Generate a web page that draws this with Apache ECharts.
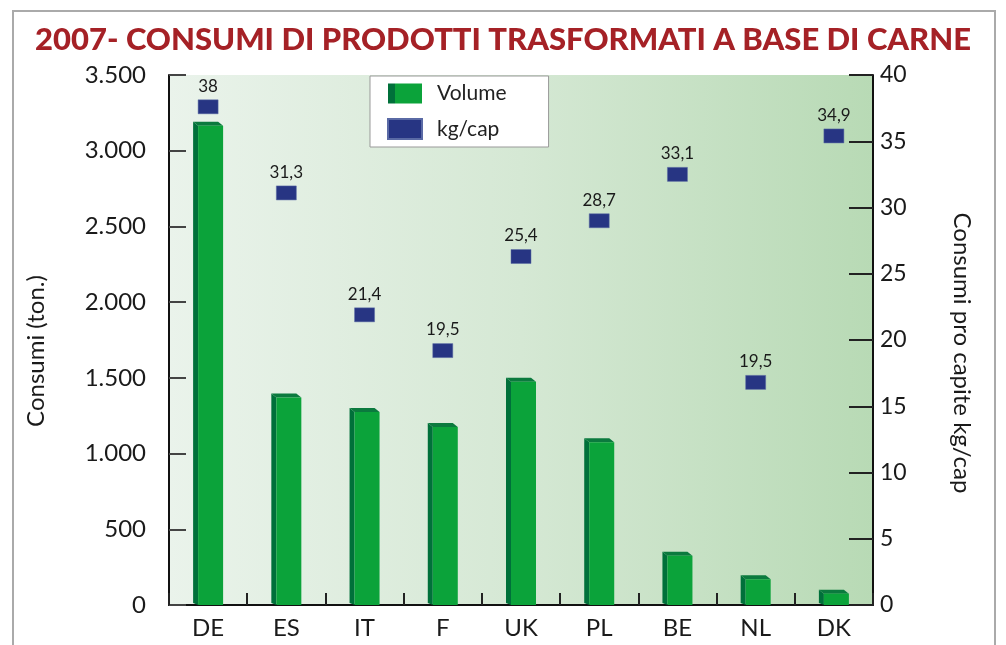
<!DOCTYPE html>
<html>
<head>
<meta charset="utf-8">
<script src="https://cdn.jsdelivr.net/npm/echarts@6/dist/echarts.min.js"></script>
<style>
html,body{margin:0;padding:0;background:#fff;}
#chart{width:1006px;height:645px;}
</style>
</head>
<body>
<div id="chart"></div>
<script>
var categories = ['DE', 'ES', 'IT', 'F', 'UK', 'PL', 'BE', 'NL', 'DK'];
var volume = [3165, 1370, 1275, 1175, 1475, 1075, 325, 170, 75];
// kg/cap markers as plotted in the picture, and the value labels printed above them
var kgCap = [37.6, 31.1, 21.9, 19.2, 26.3, 29.0, 32.5, 16.8, 35.4];
var kgCapLabels = ['38', '31,3', '21,4', '19,5', '25,4', '28,7', '33,1', '19,5', '34,9'];
var leftTicks = [0, 500, 1000, 1500, 2000, 2500, 3000, 3500];
var rightTicks = [0, 5, 10, 15, 20, 25, 30, 35, 40];

var FONT = 'Lato';
var chart = echarts.init(document.getElementById('chart'));

var faceColor = '#0ba33a';
var sideColor = '#00703a';
var capColor = '#0b7a3e';

function fmtThousands(v) {
  return String(v).replace(/\B(?=(\d{3})+(?!\d))/g, '.');
}

chart.setOption({
  animation: false,
  backgroundColor: '#fff',
  title: {
    text: '2007- CONSUMI DI PRODOTTI TRASFORMATI A BASE DI CARNE',
    left: 'center',
    top: 19,
    textStyle: { fontFamily: FONT, fontWeight: 900, fontSize: 31, color: '#a52126' }
  },
  graphic: [{
    type: 'rect',
    shape: { x: 13, y: 11, width: 982, height: 700 },
    style: { fill: 'none', stroke: '#aaaaaa', lineWidth: 2 },
    silent: true,
    z: -10
  }],
  legend: {
    orient: 'vertical',
    left: 370,
    top: 76,
    backgroundColor: '#ffffff',
    borderColor: '#999999',
    borderWidth: 1,
    padding: [7, 42, 7, 17],
    itemWidth: 34,
    itemHeight: 20,
    itemGap: 14,
    textStyle: { fontFamily: FONT, fontSize: 21, color: '#222', padding: [0, 0, 0, 10] },
    data: [
      { name: 'Volume', icon: 'rect' },
      { name: 'kg/cap', icon: 'rect' }
    ]
  },
  grid: {
    left: 169, right: 133, top: 75, bottom: 40,
    show: true,
    borderWidth: 0,
    backgroundColor: {
      type: 'linear', x: 0, y: 0, x2: 1, y2: 0,
      colorStops: [
        { offset: 0, color: '#eaf3eb' },
        { offset: 0.5, color: '#d5e8d4' },
        { offset: 1, color: '#b8dab5' }
      ]
    }
  },
  xAxis: {
    type: 'category',
    data: categories,
    axisLine: { lineStyle: { color: '#111', width: 2 } },
    axisTick: { show: true, inside: true, length: 12, alignWithLabel: false, lineStyle: { color: '#222', width: 2 } },
    axisLabel: { fontFamily: FONT, fontSize: 24, color: '#1a1a1a', margin: 11 }
  },
  yAxis: [{
    type: 'value',
    min: leftTicks[0],
    max: leftTicks[leftTicks.length - 1],
    interval: leftTicks[1] - leftTicks[0],
    name: 'Consumi (ton.)',
    nameLocation: 'middle',
    nameGap: 121,
    nameRotate: 90,
    nameTextStyle: { fontFamily: FONT, fontSize: 24, color: '#1a1a1a', padding: [0, 22, 0, 0] },
    axisLine: { show: true, lineStyle: { color: '#111', width: 2 } },
    axisTick: { show: true, inside: true, length: 17, lineStyle: { color: '#444', width: 2 } },
    axisLabel: { fontFamily: FONT, fontSize: 24, color: '#1a1a1a', margin: 23, formatter: fmtThousands },
    splitLine: { show: false }
  }, {
    type: 'value',
    min: rightTicks[0],
    max: rightTicks[rightTicks.length - 1],
    interval: rightTicks[1] - rightTicks[0],
    name: 'Consumi pro capite kg/cap',
    nameLocation: 'middle',
    nameGap: 77,
    nameRotate: -90,
    nameTextStyle: { fontFamily: FONT, fontSize: 24, color: '#1a1a1a', padding: [0, 0, 0, 26] },
    axisLine: { show: true, lineStyle: { color: '#111', width: 2 } },
    axisTick: { show: true, inside: true, length: 24, lineStyle: { color: '#222', width: 2 } },
    axisLabel: { fontFamily: FONT, fontSize: 23, color: '#1a1a1a', margin: 7 },
    splitLine: { show: false }
  }],
  series: [{
    name: 'Volume',
    type: 'custom',
    yAxisIndex: 0,
    itemStyle: {
      color: {
        type: 'linear', x: 0, y: 0, x2: 1, y2: 0,
        colorStops: [
          { offset: 0, color: sideColor },
          { offset: 0.2, color: sideColor },
          { offset: 0.2, color: faceColor },
          { offset: 1, color: faceColor }
        ]
      }
    },
    encode: { x: 0, y: 1 },
    data: volume.map(function (v, i) { return [i, v]; }),
    renderItem: function (params, api) {
      var top = api.coord([api.value(0), api.value(1)]);
      var base = api.coord([api.value(0), 0]);
      var w = 30, side = 5, d = 4;
      var left = top[0] - w / 2;
      var t = top[1], b = base[1];
      return {
        type: 'group',
        children: [
          { type: 'polygon', shape: { points: [[left, t - d], [left + side, t], [left + side, b], [left, b - 2]] }, style: { fill: sideColor } },
          { type: 'polygon', shape: { points: [[left, t - d], [left + w - side, t - d], [left + w, t], [left + side, t]] }, style: { fill: capColor } },
          { type: 'rect', shape: { x: left + side, y: t, width: w - side, height: b - t }, style: { fill: faceColor } }
        ]
      };
    }
  }, {
    name: 'kg/cap',
    type: 'scatter',
    yAxisIndex: 1,
    symbol: 'rect',
    symbolSize: [20, 14],
    itemStyle: { color: '#273583', opacity: 1, borderColor: '#5a6aa5', borderWidth: 0.5 },
    label: {
      show: true,
      position: 'top',
      distance: 5,
      fontFamily: FONT,
      fontSize: 17,
      color: '#1a1a1a',
      formatter: function (p) { return kgCapLabels[p.dataIndex]; }
    },
    data: kgCap,
    z: 5
  }]
});
</script>
</body>
</html>
